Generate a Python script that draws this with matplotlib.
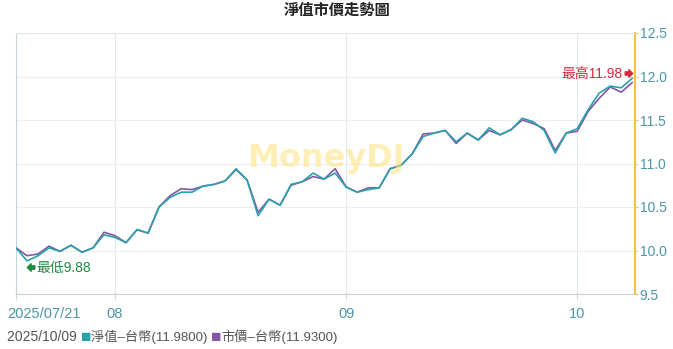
import matplotlib
matplotlib.use("Agg")
import matplotlib.pyplot as plt
import matplotlib.transforms as mtransforms
from matplotlib.offsetbox import TextArea, HPacker, AnchoredOffsetbox
from matplotlib.path import Path

plt.rcParams['font.family'] = ['Liberation Sans', 'Noto Sans CJK TC', 'DejaVu Sans']

# trading days from 2025/07/21 to 2025/10/09
nav = [10.03, 9.88, 9.94, 10.03, 9.99, 10.06, 9.98, 10.03, 10.18, 10.15,
       10.09, 10.24, 10.20, 10.50, 10.61, 10.67, 10.67, 10.74, 10.76, 10.80,
       10.94, 10.81, 10.40, 10.59, 10.52, 10.76, 10.79, 10.89, 10.82, 10.89,
       10.73, 10.67, 10.70, 10.72, 10.94, 10.98, 11.11, 11.31, 11.35, 11.38,
       11.25, 11.35, 11.27, 11.41, 11.33, 11.39, 11.52, 11.48, 11.38, 11.12,
       11.35, 11.40, 11.62, 11.81, 11.89, 11.87, 11.98]
market = [10.03, 9.94, 9.96, 10.05, 9.99, 10.06, 9.98, 10.03, 10.21, 10.17,
          10.09, 10.24, 10.20, 10.50, 10.63, 10.71, 10.70, 10.74, 10.76, 10.80,
          10.93, 10.81, 10.44, 10.59, 10.52, 10.75, 10.79, 10.85, 10.82, 10.94,
          10.73, 10.67, 10.72, 10.72, 10.94, 10.98, 11.11, 11.34, 11.35, 11.38,
          11.23, 11.35, 11.27, 11.38, 11.33, 11.39, 11.50, 11.46, 11.40, 11.15,
          11.35, 11.37, 11.60, 11.75, 11.88, 11.82, 11.93]
tick_pos = [0, 9, 30, 51]
tick_labels = ['2025/07/21', '08', '09', '10']
y_ticks = [9.5, 10.0, 10.5, 11.0, 11.5, 12.0, 12.5]
last_date = '2025/10/09'

c_nav = '#2aa3a8'
c_mkt = '#8456a6'
c_tick = '#4e95a6'

fig = plt.figure(figsize=(6.73, 3.49), dpi=100)
ax = fig.add_axes([16/673, 55/349, 619/673, 261/349])

x = list(range(len(nav)))
ax.plot(x, market, color=c_mkt, lw=1.2, zorder=3)
ax.plot(x, nav, color=c_nav, lw=1.2, zorder=4)

ax.set_xlim(0, len(nav) - 1 + 0.25)
ax.set_ylim(9.5, 12.5)
ax.set_yticks(y_ticks)
ax.set_yticklabels(['%.1f' % v for v in y_ticks])
ax.set_xticks(tick_pos)
ax.set_xticklabels(tick_labels)
ax.yaxis.tick_right()
ax.tick_params(axis='y', colors='#f2c14e', labelcolor=c_tick, labelsize=10, length=2, pad=1.5)
ax.tick_params(axis='x', colors='#cfdfe6', labelcolor=c_tick, labelsize=10.5, length=4, pad=5)

first = ax.get_xticklabels()[0]
first.set_ha('left')
first.set_transform(first.get_transform() + mtransforms.ScaledTranslation(-0.09, 0, fig.dpi_scale_trans))

ax.grid(axis='y', color='#eeeeee', lw=0.8)
ax.grid(axis='x', color='#dce9f0', lw=0.8)
ax.set_axisbelow(True)
ax.spines['top'].set_color('#e6e6e6')
ax.spines['top'].set_linewidth(0.8)
ax.spines['left'].set_color('#c8d4dc')
ax.spines['bottom'].set_color('#cccccc')
ax.spines['right'].set_color('#f2c14e')
ax.spines['right'].set_linewidth(1.5)

fig.text(337/673, 1 - 11/349, '淨值市價走勢圖', ha='center', va='center',
         fontsize=11, fontweight='bold', color='#222222')

# watermark
ax.text(0.5, 0.52, 'MoneyDJ', transform=ax.transAxes, ha='center', va='center',
        fontsize=23, fontweight='bold', color='#ffe27a', alpha=0.55, zorder=5,
        family='DejaVu Sans')

# block arrow marker
arrow = Path([(-0.8, -0.4), (0.1, -0.4), (0.1, -0.9), (1, 0), (0.1, 0.9),
              (0.1, 0.4), (-0.8, 0.4), (-0.8, -0.4)])
arrow_l = Path([(-px, py) for px, py in arrow.vertices])

hi = nav.index(max(nav))
lo = nav.index(min(nav))
red = '#d42a3c'
green = '#1f8a3e'
ax.plot([hi], [nav[hi]], marker=arrow, ms=6, color=red, ls='none', zorder=6,
        transform=mtransforms.offset_copy(ax.transData, fig, x=-4, y=5, units='dots'))
ax.annotate('最高%.2f' % nav[hi], (hi, nav[hi]), xytext=(-10, 4),
            textcoords='offset pixels', ha='right', va='center', fontsize=10, color=red, zorder=6)
ax.plot([lo], [nav[lo]], marker=arrow_l, ms=6, color=green, ls='none', zorder=6,
        transform=mtransforms.offset_copy(ax.transData, fig, x=4, y=-6, units='dots'))
ax.annotate('最低%.2f' % nav[lo], (lo, nav[lo]), xytext=(9, -7),
            textcoords='offset pixels', ha='left', va='center', fontsize=10, color=green, zorder=6)

# bottom legend
grey = '#555555'
parts = [
    TextArea(last_date + ' ', textprops=dict(color=grey, fontsize=10)),
    TextArea('■', textprops=dict(color=c_nav, fontsize=12.5)),
    TextArea('淨值–台幣(%.4f) ' % nav[-1], textprops=dict(color=grey, fontsize=9.5)),
    TextArea('■', textprops=dict(color=c_mkt, fontsize=12.5)),
    TextArea('市價–台幣(%.4f)' % market[-1], textprops=dict(color=grey, fontsize=9.5)),
]
box = HPacker(children=parts, align='center', pad=0, sep=0)
leg = AnchoredOffsetbox(loc='center left', child=box, pad=0, frameon=False,
                        bbox_to_anchor=(7/673, 1 - 337/349),
                        bbox_transform=fig.transFigure, borderpad=0)
fig.add_artist(leg)

fig.savefig('out.png', dpi=100)
